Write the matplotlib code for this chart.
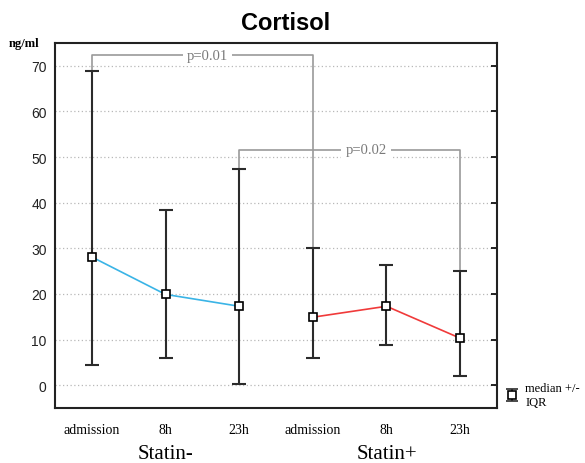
import numpy as np
import matplotlib
matplotlib.use("Agg")
import matplotlib.pyplot as plt

# ---- data ----
time_labels = ["admission", "8h", "23h"]
groups = ["Statin-", "Statin+"]
median_minus = [28.1, 19.9, 17.3]
q1_minus = [4.4, 5.9, 0.2]
q3_minus = [68.9, 38.5, 47.4]
median_plus = [14.9, 17.3, 10.3]
q1_plus = [5.9, 8.9, 2.1]
q3_plus = [30.1, 26.3, 25.0]
p_labels = ["p=0.01", "p=0.02"]
yticks = [0, 10, 20, 30, 40, 50, 60, 70]

W, H = 585, 464
fig = plt.figure(figsize=(W / 100, H / 100), dpi=100)
ax = fig.add_axes([55 / W, 1 - 409 / H, (497 - 55) / W, (409 - 44) / H])

serif = "Liberation Serif"
sans = "Liberation Sans"
ecol = "#2b2b2b"

x_minus = np.arange(3)
x_plus = np.arange(3) + 3

def draw_group(x, med, q1, q3, color):
    med = np.array(med); q1 = np.array(q1); q3 = np.array(q3)
    ax.plot(x, med, color=color, lw=1.2, zorder=3)
    ax.errorbar(x, med, yerr=[med - q1, q3 - med], fmt="none", ecolor=ecol,
                elinewidth=1.5, capsize=5, capthick=1.5, zorder=2)
    ax.plot(x, med, ls="none", marker="s", ms=5.5, mfc="white", mec="black",
            mew=1.2, zorder=4)

draw_group(x_minus, median_minus, q1_minus, q3_minus, "#3ab4e6")
draw_group(x_plus, median_plus, q1_plus, q3_plus, "#f03a3a")

# significance brackets
bcol = "#9a9a9a"
def bracket(x0, x1, y, y0, y1, label, tx):
    ax.plot([x0, x0, x1, x1], [y0, y, y, y1], color=bcol, lw=1.2, zorder=1.5)
    ax.text(tx, y, label, ha="center", va="center", color="#7a7a7a",
            fontsize=10.5, family=serif,
            bbox=dict(facecolor="white", edgecolor="none", pad=3), zorder=1.6)

bracket(x_minus[0], x_plus[0], 72.3, q3_minus[0], q3_plus[0], p_labels[0], 1.57)
bracket(x_minus[2], x_plus[2], 51.6, q3_minus[2], q3_plus[2], p_labels[1], 3.72)

# legend
h = ax.errorbar([np.nan], [np.nan], yerr=[[1], [1]], fmt="s", ms=6, mfc="white",
                mec="black", mew=1.2, ecolor=ecol, elinewidth=1.3, capsize=4,
                capthick=1.3)
leg = fig.legend(handles=[h], labels=["median +/-\nIQR"], loc="center left",
                 bbox_to_anchor=(499 / W, 1 - 396 / H), frameon=False,
                 handlelength=1.0, handletextpad=0.6, borderpad=0,
                 prop={"family": serif, "size": 9})

ax.set_xlim(-0.5, 5.5)
ax.set_ylim(-5, 75)
ax.set_yticks(yticks)
ax.set_yticklabels([str(v) for v in yticks], family=sans, fontsize=10, color="#222")
ax.yaxis.grid(True, ls=(0, (1, 2)), color="#b8b8b8", lw=0.9)
ax.set_axisbelow(True)
ax.tick_params(axis="y", direction="in", length=4, width=1.2, right=True, left=False, pad=6)

ax.set_xticks(np.arange(6))
ax.set_xticklabels(time_labels * 2, family=serif, fontsize=10)
ax.tick_params(axis="x", which="major", length=0, pad=11)
ax.set_xticks([1, 4], minor=True)
ax.tick_params(axis="x", which="minor", direction="in", length=4, width=1.2, top=True)

for s in ax.spines.values():
    s.set_linewidth(1.5)
    s.set_color("#222")

for xc, g in zip([1, 4], groups):
    ax.text(xc, -0.126, g, transform=ax.get_xaxis_transform(), ha="center",
            va="center", family=serif, fontsize=15)

fig.text(286 / W, 1 - 23 / H, "Cortisol", ha="center", va="center",
         family=sans, fontsize=17, fontweight="bold")
fig.text(24 / W, 1 - 44 / H, "ng/ml", ha="center", va="center",
         family=serif, fontsize=9, fontweight="bold")

fig.savefig("out.png", dpi=100)
